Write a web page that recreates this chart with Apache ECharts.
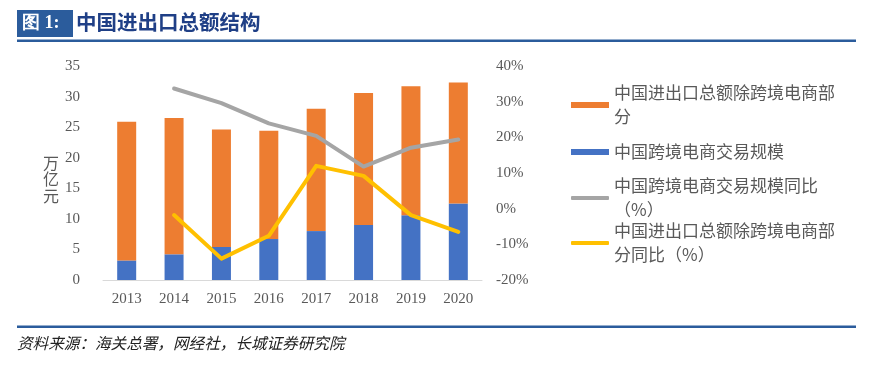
<!DOCTYPE html>
<html>
<head>
<meta charset="utf-8">
<script src="https://cdn.jsdelivr.net/npm/echarts@6/dist/echarts.min.js"></script>
<style>
html,body{margin:0;padding:0;background:#fff;}
#c{width:878px;height:391px;}
</style>
</head>
<body>
<div id="c"></div>
<script>
// ---- data ----
var years = ['2013','2014','2015','2016','2017','2018','2019','2020'];
var otherTrade = [22.7, 22.3, 19.2, 17.7, 20.0, 21.6, 21.1, 19.8];   // 中国进出口总额除跨境电商部分 (万亿元)
var crossBorder = [3.2, 4.2, 5.4, 6.7, 8.0, 9.0, 10.6, 12.5];       // 中国跨境电商交易规模 (万亿元)
var crossBorderYoY = [null, 33.7, 29.6, 23.9, 20.4, 11.8, 17.1, 19.4]; // 同比 (%)
var otherTradeYoY = [null, -1.8, -14.0, -7.6, 12.0, 9.2, -1.8, -6.5];  // 同比 (%)
var leftTicks = {min: 0, max: 35, interval: 5};
var rightTicks = {min: -20, max: 40, interval: 10};
var leftAxisName = '万\n亿\n元';

var names = [
  '中国进出口总额除跨境电商部分',
  '中国跨境电商交易规模',
  '中国跨境电商交易规模同比（%）',
  '中国进出口总额除跨境电商部分同比（%）'
];
var legendText = {};
legendText[names[0]] = '中国进出口总额除跨境电商部\n分';
legendText[names[1]] = '中国跨境电商交易规模';
legendText[names[2]] = '中国跨境电商交易规模同比\n（%）';
legendText[names[3]] = '中国进出口总额除跨境电商部\n分同比（%）';

var C_ORANGE = '#ED7D31', C_BLUE = '#4472C4', C_GRAY = '#A5A5A5', C_YELLOW = '#FFC000';
var DARKBLUE = '#2B5C9C';
var LH = 24;

function mkLegend(name, centerY, icon, h, twoLine) {
  return {
    data: [name],
    left: 571,
    top: twoLine ? centerY - 36 : centerY - 12,
    padding: 0,
    icon: icon,
    itemWidth: 38,
    itemHeight: h,
    itemGap: 0,
    selectedMode: false,
    formatter: function (n) { return legendText[n]; },
    textStyle: {
      fontFamily: 'Noto Sans CJK SC',
      fontSize: 17,
      color: '#595959',
      lineHeight: LH,
      padding: twoLine ? [LH, 0, 0, 0] : 0
    }
  };
}

var chart = echarts.init(document.getElementById('c'), null, {renderer: 'canvas'});
var option = {
  animation: false,
  backgroundColor: '#ffffff',
  title: [{
    text: '中国进出口总额结构',
    left: 76, top: 12, padding: 0,
    textStyle: {fontFamily: 'Noto Sans CJK SC', fontWeight: 'bold', fontSize: 20.5, color: '#1F3F86'}
  }, {
    text: '资料来源：海关总署，网经社，长城证券研究院',
    left: 17, top: 335, padding: 0,
    textStyle: {fontFamily: 'Noto Sans CJK SC', fontStyle: 'italic', fontWeight: 'normal', fontSize: 15.6, color: '#222222'}
  }],
  graphic: [
    {type: 'rect', shape: {x: 17, y: 10, width: 56, height: 27}, style: {fill: DARKBLUE}},
    {type: 'text', x: 22, y: 23.5, style: {text: '图 1:', fill: '#ffffff', font: 'bold 18px "Liberation Serif"', verticalAlign: 'middle'}},
    {type: 'rect', shape: {x: 17, y: 39.5, width: 839, height: 2.5}, style: {fill: DARKBLUE}},
    {type: 'rect', shape: {x: 17, y: 325.5, width: 839, height: 2.5}, style: {fill: DARKBLUE}},
    {type: 'text', x: 51, y: 179, style: {text: leftAxisName, fill: '#595959', font: '16px "Noto Sans CJK SC"', lineHeight: 16.5, align: 'center', verticalAlign: 'middle'}}
  ],
  legend: [
    mkLegend(names[0], 105, 'rect', 6, true),
    mkLegend(names[1], 152, 'rect', 6, false),
    mkLegend(names[2], 198, 'roundRect', 4, true),
    mkLegend(names[3], 243, 'roundRect', 4, true)
  ],
  grid: {left: 103, right: 396, top: 66, bottom: 111, containLabel: false},
  xAxis: {
    type: 'category',
    data: years,
    boundaryGap: true,
    axisLine: {show: true, lineStyle: {color: '#D9D9D9', width: 1}},
    axisTick: {show: false},
    axisLabel: {margin: 12, fontFamily: 'Liberation Serif', fontSize: 15, color: '#595959'}
  },
  yAxis: [{
    type: 'value',
    min: leftTicks.min, max: leftTicks.max, interval: leftTicks.interval,
    splitLine: {show: false},
    axisLine: {show: false},
    axisTick: {show: false},
    axisLabel: {margin: 23, fontFamily: 'Liberation Serif', fontSize: 15, color: '#595959'}
  }, {
    type: 'value',
    min: rightTicks.min, max: rightTicks.max, interval: rightTicks.interval,
    position: 'right',
    splitLine: {show: false},
    axisLine: {show: false},
    axisTick: {show: false},
    axisLabel: {margin: 14, formatter: '{value}%', fontFamily: 'Liberation Serif', fontSize: 15, color: '#595959'}
  }],
  series: [{
    name: names[1], type: 'bar', stack: 'total', yAxisIndex: 0,
    data: crossBorder, barWidth: 19,
    itemStyle: {color: C_BLUE}
  }, {
    name: names[0], type: 'bar', stack: 'total', yAxisIndex: 0,
    data: otherTrade, barWidth: 19,
    itemStyle: {color: C_ORANGE}
  }, {
    name: names[2], type: 'line', yAxisIndex: 1,
    data: crossBorderYoY, showSymbol: false, symbol: 'none',
    lineStyle: {color: C_GRAY, width: 4, cap: 'round', join: 'round'},
    itemStyle: {color: C_GRAY}
  }, {
    name: names[3], type: 'line', yAxisIndex: 1,
    data: otherTradeYoY, showSymbol: false, symbol: 'none',
    lineStyle: {color: C_YELLOW, width: 4, cap: 'round', join: 'round'},
    itemStyle: {color: C_YELLOW}
  }]
};
chart.setOption(option);
</script>
</body>
</html>
